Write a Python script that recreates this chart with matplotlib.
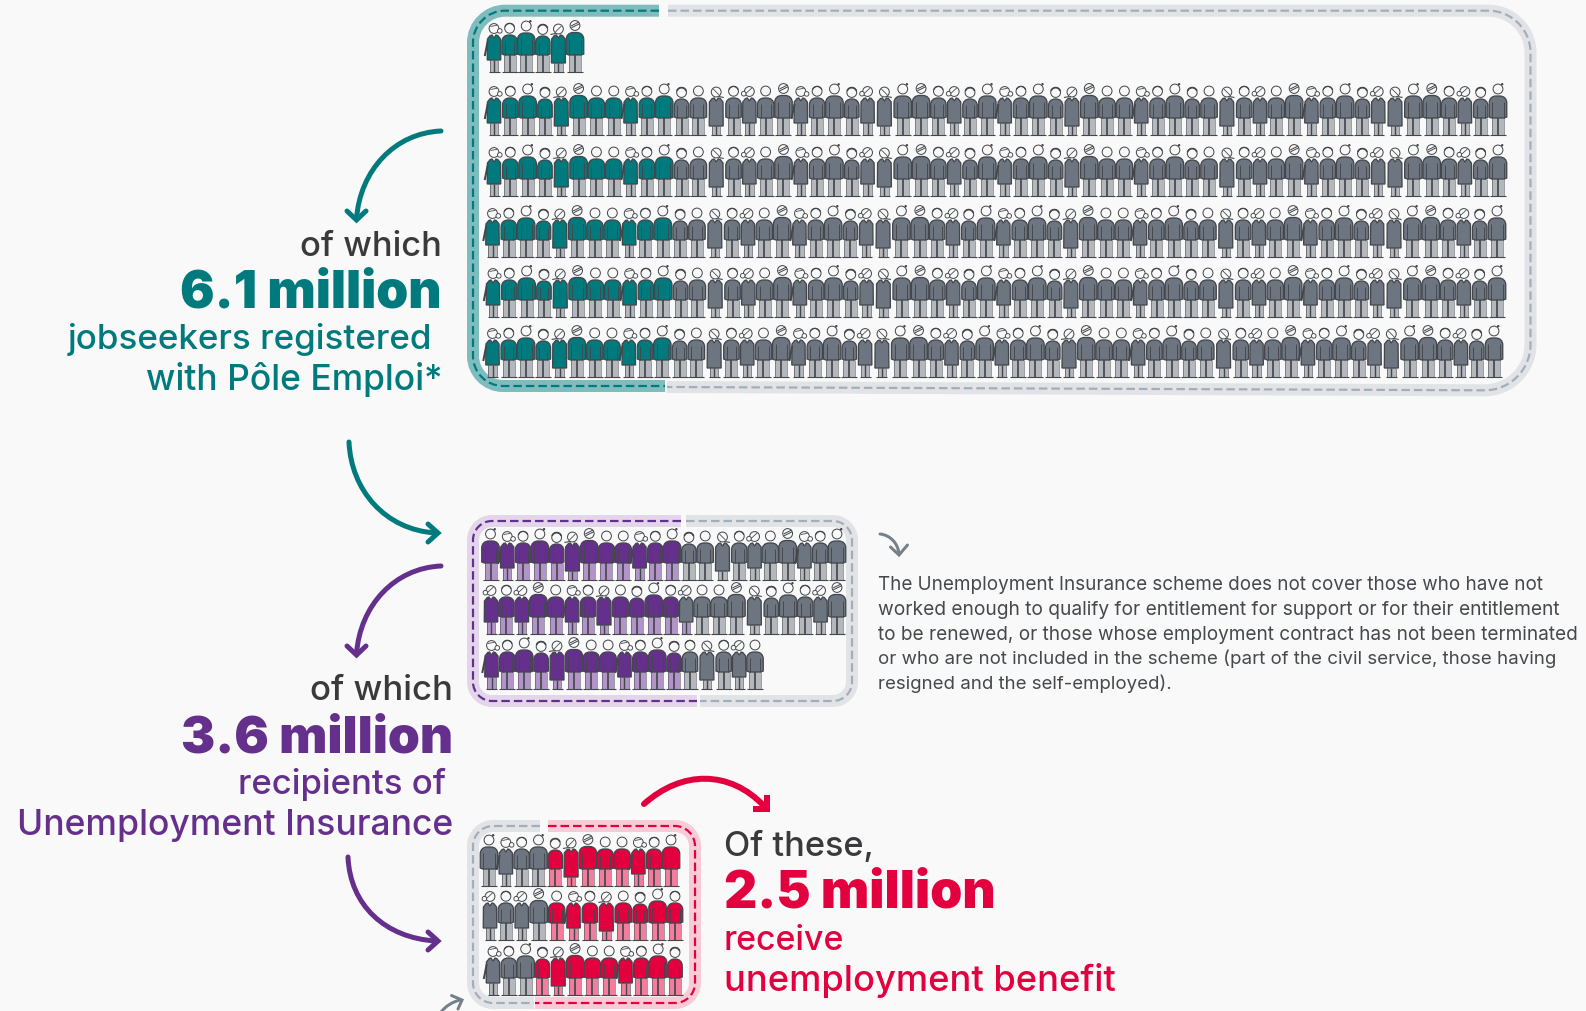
import numpy as np
import matplotlib
matplotlib.use("Agg")
import matplotlib.pyplot as plt
from matplotlib.path import Path
from matplotlib.patches import PathPatch, Circle, Rectangle

# population counts, one figure = 100 000 people
TOP_KINDS = ["wr", "f", "t", "s", "wl", "b", "p", "p", "wr", "f", "t", "s", "p", "r", "f", "wb", "p", "b", "wr", "f",
             "t", "s", "wb", "r", "t", "b", "f", "wb", "s", "t", "wr", "f", "t", "s", "wl", "b", "p", "p", "wr", "f",
             "t", "s", "p", "r", "f", "wb", "p", "b", "wr", "f", "t", "s", "wb", "r", "t", "b", "f", "wb", "s", "t"]
TOP_FIRST_ROW = TOP_KINDS[:6]
TOP_HIGHLIGHT = [6, 11, 11, 11, 11, 11]

MID_ROWS = [
    ["t", "wr", "f", "t", "s", "wl", "b", "p", "p", "wr", "f", "t", "s", "p", "r", "f", "wb", "p", "b", "wr", "f", "t"],
    ["wb", "f", "wb", "b", "p", "wr", "f", "wl", "p", "s", "t", "f", "wb", "p", "p", "b", "r", "s", "t", "f", "wb", "b"],
    ["wr", "f", "t", "s", "wl", "b", "p", "p", "wr", "f", "t", "s", "f", "r", "f", "wb", "p"],
]
MID_HIGHLIGHT = [12, 12, 12]
MID_LEGS_HIGHLIGHT = [12, 13, 12]

LOW_ROWS = [
    ["t", "wr", "f", "t", "s", "wl", "b", "p", "p", "wr", "f", "t"],
    ["wb", "f", "wb", "b", "p", "wr", "f", "wl", "p", "s", "t", "f"],
    ["wr", "f", "t", "s", "wl", "b", "p", "p", "wr", "f", "t", "s"],
]
LOW_GRAY = [4, 4, 3]

PARAGRAPH = [
    "The Unemployment Insurance scheme does not cover those who have not",
    "worked enough to qualify for entitlement for support or for their entitlement",
    "to be renewed, or those whose employment contract has not been terminated",
    "or who are not included in the scheme (part of the civil service, those having",
    "resigned and the self-employed).",
]

BG = "#F9F9F9"
INK = "#43474C"
DARK = "#3A3A3C"
TEAL = "#007A7C"
PURPLE = "#65308C"
RED = "#E2003F"
GRAY = "#6C7580"
LEG_GRAY = "#B4B7BC"
LEG_PURPLE = "#B394C9"
LEG_RED = "#F27D9C"

FONT = "Inter"
LINE_W = 72 / 100  # points per pixel at dpi 100

plt.rcParams["font.family"] = [FONT, "DejaVu Sans"]
plt.rcParams["lines.scale_dashes"] = False

fig = plt.figure(figsize=(15.86, 10.11), dpi=100, facecolor=BG)
ax = fig.add_axes([0, 0, 1, 1])
ax.set_xlim(0, 1586)
ax.set_ylim(1011, 0)
ax.axis("off")
renderer = fig.canvas.get_renderer()

# body sizes in pixels: half gap, torso width, torso top, hem, head height
MEN = {"p": (8.5, 16.5, 37, 17, 44), "f": (8.0, 15.5, 37, 17, 43.7), "t": (9.0, 17.5, 39, 17, 46),
       "b": (9.0, 17.5, 39.5, 17, 46.5), "s": (8.0, 14.5, 36, 17, 42.5)}
WOMEN = {"wr": (8.0, 13.5, 37, 12, 43.5), "wb": (7.5, 13.5, 37, 12, 43.5),
         "wl": (8.0, 14.0, 37, 9, 43), "r": (9.0, 14.0, 37, 9, 43)}


def shape(verts, codes, **kw):
    ax.add_patch(PathPatch(Path(verts, codes), **kw))


def stroke(xs, ys, color=INK, w=1.0, **kw):
    ax.plot(xs, ys, color=color, lw=w * LINE_W, solid_capstyle=kw.pop("cap", "butt"), **kw)


def draw_head(kind, x, y):
    ax.add_patch(Circle((x, y), 4.9, fc=BG, ec=INK, lw=1.0 * LINE_W))
    if kind == "t":
        ax.add_patch(Circle((x + 4.2, y - 4.8), 1.2, fc=INK, ec=INK, lw=0))
    elif kind in ("f", "s"):
        t = np.linspace(np.pi * 1.1, np.pi * 1.9, 12)
        stroke(x + 4.9 * np.cos(t), y + 4.9 * np.sin(t), w=1.7 if kind == "s" else 1.3)
    elif kind == "b":
        stroke([x - 4, x + 4], [y + 0.5, y - 3.5], w=1.0)
        stroke([x - 3.6, x + 4.4], [y + 2.3, y - 1.7], w=1.0)
    elif kind == "wr":
        ax.add_patch(Circle((x + 5.8, y + 2.4), 2.3, fc=BG, ec=INK, lw=0.9 * LINE_W))
        stroke([x - 3.5, x + 3], [y - 2, y - 3.2], w=0.8)
    elif kind == "wb":
        ax.add_patch(Circle((x - 5.6, y + 2.2), 2.3, fc=BG, ec=INK, lw=0.9 * LINE_W))
        stroke([x - 3.5, x + 2.5], [y + 2, y - 3.5], w=0.8)
    elif kind == "wl":
        stroke([x - 3, x + 3], [y + 3, y - 3], w=0.8)
        stroke([x - 2.5, x - 8], [y + 4.5, y + 5.5], w=1.1)
    elif kind == "r":
        stroke([x - 3, x + 3], [y - 3, y + 3], w=0.8)
        stroke([x + 2.5, x + 7.5], [y + 4.5, y + 5.5], w=1.1)


def draw_man(kind, x, base, fill, leg):
    _, w, top, hip, head = MEN[kind]
    xl, xr, yt, yb = x - w / 2, x + w / 2, base - top, base - hip
    r = 7
    # sleeves end a little above the hips, so the torso tapers back in at the hem
    verts = [(xl + 2.5, yb), (xl, yb - 1), (xl, yt + r), (xl, yt + 0.4 * r), (xl + 0.4 * r, yt), (xl + r, yt),
             (xr - r, yt), (xr - 0.4 * r, yt), (xr, yt + 0.4 * r), (xr, yt + r), (xr, yb - 1), (xr - 2.5, yb),
             (xl + 2.5, yb)]
    codes = [Path.MOVETO, Path.LINETO, Path.LINETO, Path.CURVE4, Path.CURVE4, Path.CURVE4, Path.LINETO,
             Path.CURVE4, Path.CURVE4, Path.CURVE4, Path.LINETO, Path.LINETO, Path.CLOSEPOLY]
    ax.add_patch(Rectangle((x - 6, yb), 12, hip, fc=leg, ec="none"))
    stroke([x, x], [yb, base], w=1.7)
    stroke([x - 6, x - 6], [yb, base], w=0.5)
    stroke([x + 6, x + 6], [yb, base], w=0.5)
    shape(verts, codes, fc=fill, ec=INK, lw=1.3 * LINE_W)
    stroke([xl + 3.2, xl + 3.2], [yt + 6, yb], w=0.9)
    stroke([xr - 3.2, xr - 3.2], [yt + 6, yb], w=0.9)
    stroke([x - 8, x + 8], [base, base], w=1.1)
    draw_head(kind, x, base - head)


def draw_woman(kind, x, base, fill, leg):
    _, w, top, hem, head = WOMEN[kind]
    xl, xr, yt, yb = x - w / 2, x + w / 2, base - top, base - hem
    verts = [(xl, yb), (xl + 0.2, yt + 4), (xl + 3, yt + 0.5), (x - 2, yt), (x, yt + 3), (x + 2, yt),
             (xr - 3, yt + 0.5), (xr - 0.2, yt + 4), (xr, yb), (xl, yb)]
    codes = [Path.MOVETO] + [Path.LINETO] * 8 + [Path.CLOSEPOLY]
    ax.add_patch(Rectangle((x - 4.2, yb), 8.4, hem, fc=leg, ec="none"))
    stroke([x, x], [yb, base], w=1.4)
    stroke([x - 4.2, x - 4.2], [yb, base], w=0.6)
    stroke([x + 4.2, x + 4.2], [yb, base], w=0.6)
    if kind == "wr":
        # hanging arm on the outer side
        stroke([xl + 0.5, xl - 2.5], [yt + 6, yt + 21], color=INK, w=2.0)
    shape(verts, codes, fc=fill, ec=INK, lw=1.3 * LINE_W)
    stroke([x - 5.5, x + 5.5], [base, base], w=1.1)
    draw_head(kind, x, base - head)


def draw_row(kinds, base, x0, x1, fills, legs):
    half = [MEN[k][0] if k in MEN else WOMEN[k][0] for k in kinds]
    gaps = np.array(half[:-1]) + np.array(half[1:])
    xs = x0 + np.concatenate([[0], np.cumsum(gaps)]) * (x1 - x0) / gaps.sum()
    for k, x, fill, leg in zip(kinds, xs, fills, legs):
        if k in MEN:
            draw_man(k, x, base, fill, leg)
        else:
            draw_woman(k, x, base, fill, leg)


def rounded(points, radii):
    # polyline with bezier corners
    pts = [np.array(p, float) for p in points]
    verts, codes = [pts[0]], [Path.MOVETO]
    for i in range(1, len(pts) - 1):
        p, a, b, r = pts[i], pts[i - 1], pts[i + 1], radii[i - 1]
        u = (a - p) / np.linalg.norm(a - p)
        v = (b - p) / np.linalg.norm(b - p)
        verts += [p + u * r, p + u * r * 0.45, p + v * r * 0.45, p + v * r]
        codes += [Path.LINETO, Path.CURVE4, Path.CURVE4, Path.CURVE4]
    verts.append(pts[-1])
    codes.append(Path.LINETO)
    return Path(verts, codes)


def frame(points, radii, band, dash):
    p = rounded(points, radii)
    ax.add_patch(PathPatch(p, fc="none", ec=band, lw=12 * LINE_W, capstyle="butt", joinstyle="round"))
    ax.add_patch(PathPatch(p, fc="none", ec=dash, lw=2.2 * LINE_W, capstyle="butt",
                           linestyle=(0, (8.5 * LINE_W, 4.0 * LINE_W))))


def curve(p0, c1, c2, p1, color, w=5.0):
    p = Path([p0, c1, c2, p1], [Path.MOVETO, Path.CURVE4, Path.CURVE4, Path.CURVE4])
    ax.add_patch(PathPatch(p, fc="none", ec=color, lw=w * LINE_W, capstyle="round"))


def chevron(a, tip, b, color, w=5.0, cap="round"):
    ax.plot([a[0], tip[0], b[0]], [a[1], tip[1], b[1]], color=color, lw=w * LINE_W,
            solid_capstyle=cap, solid_joinstyle="miter")


def label(s, x, base, width, color, weight, ha="right"):
    t = ax.text(x, base, s, color=color, fontweight=weight, fontsize=10, ha=ha, va="baseline")
    t.set_fontsize(10 * width / t.get_window_extent(renderer).width)
    return t


# frames
frame([(659, 10.7), (473, 10.7), (473, 386), (665, 386)], [32, 30], "#7FBCBD", TEAL)
frame([(668, 10.7), (1530.5, 10.7), (1530.5, 390.5), (667, 387)], [42, 46], "#E1E3E6", "#A3AEBB")
frame([(681, 521), (473, 521), (473, 701), (697, 701)], [19, 19], "#E3D6EA", PURPLE)
frame([(686, 521), (852, 521), (852, 701), (700, 701)], [19, 19], "#E1E3E6", "#A3AEBB")
frame([(540, 826), (473, 826), (473, 1003), (534, 1003)], [20, 20], "#E1E3E6", "#A3AEBB")
frame([(548, 826), (695, 826), (695, 1003), (535, 1003)], [20, 20], "#F9CBD7", RED)

# jobseekers block
top_y = [72, 135, 196, 257, 317, 377]
top_x = [(494, 575), (494, 1498), (494, 1498), (492.5, 1497), (493, 1497), (492.5, 1494)]
for i, (base, (x0, x1)) in enumerate(zip(top_y, top_x)):
    kinds = TOP_FIRST_ROW if i == 0 else TOP_KINDS
    n = TOP_HIGHLIGHT[i]
    draw_row(kinds, base, x0, x1, [TEAL] * n + [GRAY] * (len(kinds) - n), [LEG_GRAY] * len(kinds))

# recipients block
mid_y = [580, 634, 689]
mid_x = [(490.5, 837), (491, 837), (491.5, 755)]
for kinds, base, (x0, x1), n, m in zip(MID_ROWS, mid_y, mid_x, MID_HIGHLIGHT, MID_LEGS_HIGHLIGHT):
    draw_row(kinds, base, x0, x1, [PURPLE] * n + [GRAY] * (len(kinds) - n),
             [LEG_PURPLE] * m + [LEG_GRAY] * (len(kinds) - m))

# benefit block
low_y = [886, 940, 995]
low_x = [(489, 671), (490, 675), (493, 675)]
for kinds, base, (x0, x1), n in zip(LOW_ROWS, low_y, low_x, LOW_GRAY):
    draw_row(kinds, base, x0, x1, [GRAY] * n + [RED] * (len(kinds) - n),
             [LEG_GRAY] * n + [LEG_RED] * (len(kinds) - n))

# arrows
curve((441, 131), (395, 133), (360, 170), (356.5, 219), TEAL)
chevron((347, 211), (356.5, 220), (366, 211), TEAL)
curve((349, 442), (351, 490), (385, 530), (436, 533), TEAL)
chevron((428, 524), (438, 533), (428, 542), TEAL)
curve((441, 566), (395, 568), (360, 605), (356.5, 654), PURPLE)
chevron((347, 646), (356.5, 655), (366, 646), PURPLE)
curve((348, 857), (350, 905), (385, 938), (436, 941), PURPLE)
chevron((428, 932), (438, 941), (428, 950), PURPLE)
curve((644, 804), (682, 770), (730, 770), (764, 806), RED, 6)
chevron((753, 808.5), (767, 808.5), (767, 795), RED, 6, "butt")
curve((880, 534), (890, 535), (898, 543), (899, 554), "#76808B", 3)
chevron((890.5, 547), (899, 555), (907.5, 545), "#76808B", 3)
curve((441, 1012), (446, 1006), (452, 1002), (460, 1000), "#76808B", 3)
chevron((451.5, 995.5), (462, 1000), (458, 1009), "#76808B", 3)

# labels
label("of which", 441.5, 256, 142, DARK, 500)
label("6.1 million", 441.5, 307.5, 265, TEAL, 900)
label("jobseekers registered", 432.5, 349, 364, TEAL, 500)
label("with Pôle Emploi*", 443, 390, 297, TEAL, 500)

label("of which", 453, 700.5, 143, DARK, 500)
label("3.6 million", 453, 752.5, 276, PURPLE, 900)
label("recipients of", 446, 794, 208, PURPLE, 500)
label("Unemployment Insurance", 453, 834.5, 436, PURPLE, 500)

label("Of these,", 724, 856, 150, DARK, 500, ha="left")
label("2.5 million", 724, 907, 275, RED, 900, ha="left")
label("receive", 724, 949.5, 120, RED, 500, ha="left")
label("unemployment benefit", 724, 990.5, 391, RED, 500, ha="left")

para_y = [590, 614.7, 639.5, 664, 689]
para_w = [665, 686.5, 700.5, 679, 295]
for s, y, w in zip(PARAGRAPH, para_y, para_w):
    label(s, 878.5, y, w, "#45494E", 400, ha="left")

fig.savefig("out.png", dpi=100, facecolor=BG)
